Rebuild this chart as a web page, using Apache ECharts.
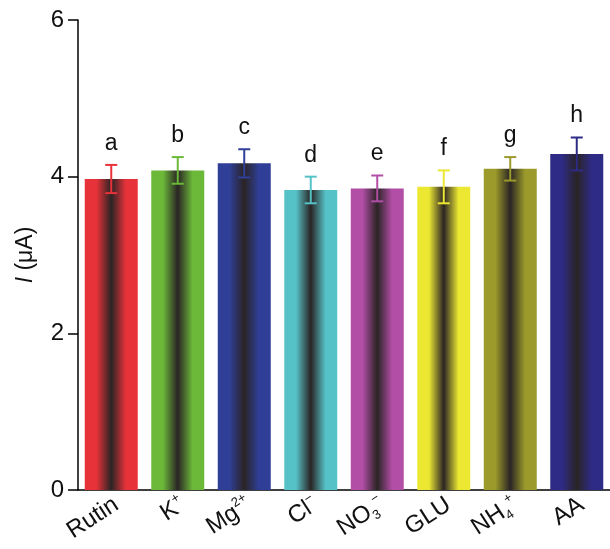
<!DOCTYPE html>
<html><head><meta charset="utf-8">
<script src="https://cdn.jsdelivr.net/npm/echarts@6/dist/echarts.min.js"></script>
<style>html,body{margin:0;padding:0;background:#fff}#c{width:610px;height:549px}</style>
</head><body><div id="c"></div>
<script>
var categories = ['Rutin', 'K+', 'Mg2+', 'Cl-', 'NO3-', 'GLU', 'NH4+', 'AA'];
var categoryLabels = ['Rutin', 'K{sup|+}', 'Mg{sup|2+}', 'Cl{sup|−}', 'NO{sub|3}{sup|−}', 'GLU', 'NH{sub|4}{sup|+}', 'AA'];
var means = [3.97, 4.08, 4.17, 3.83, 3.85, 3.87, 4.10, 4.29];
var errors = [0.18, 0.17, 0.18, 0.17, 0.165, 0.21, 0.15, 0.21];
var letters = ['a', 'b', 'c', 'd', 'e', 'f', 'g', 'h'];
var colors = ['#e8323a', '#6cb93a', '#2f3f98', '#55c2c8', '#b24ea6', '#ece832', '#9b9a2a', '#2e2b86'];
var yTicks = [0, 2, 4, 6];

var chart = echarts.init(document.getElementById('c'));
function grad(c) {
  return new echarts.graphic.LinearGradient(0, 0, 1, 0, [
    {offset: 0, color: c}, {offset: 0.22, color: c},
    {offset: 0.5, color: '#2a2424'},
    {offset: 0.78, color: c}, {offset: 1, color: c}
  ]);
}
var barData = means.map(function (v, i) {
  return {value: v, itemStyle: {color: grad(colors[i])}};
});
var errData = means.map(function (v, i) { return [i, v, errors[i]]; });
var FONT = 'Liberation Sans, Arial, sans-serif';
chart.setOption({
  animation: false,
  grid: {left: 78, right: -3, top: 20, bottom: 59},
  xAxis: {
    type: 'category', data: categories,
    axisLine: {lineStyle: {color: '#000', width: 1.5}},
    axisTick: {alignWithLabel: true, length: 8, lineStyle: {color: '#000', width: 1.5}},
    axisLabel: {
      rotate: 33, margin: 16, color: '#111', fontFamily: FONT, fontSize: 24,
      padding: [0, -6, 0, 0],
      formatter: function (v, i) { return categoryLabels[i]; },
      rich: {
        sup: {fontSize: 13, fontFamily: FONT, color: '#111', verticalAlign: 'top', lineHeight: 28, padding: [0, 0, 14, 0]},
        sub: {fontSize: 13, fontFamily: FONT, color: '#111', verticalAlign: 'bottom', lineHeight: 28, padding: [10, 0, 0, 0]}
      }
    }
  },
  yAxis: {
    type: 'value', min: 0, max: 6, interval: 2,
    name: '{i|I} (μA)', nameLocation: 'middle', nameGap: 41, nameRotate: 90,
    nameTextStyle: {fontSize: 23, fontFamily: FONT, color: '#111',
      rich: {i: {fontStyle: 'italic', fontSize: 23, fontFamily: FONT, color: '#111'}}},
    axisLine: {show: true, lineStyle: {color: '#000', width: 1.5}},
    axisTick: {show: true, length: 10, lineStyle: {color: '#000', width: 1.5}},
    axisLabel: {color: '#111', fontFamily: FONT, fontSize: 24, margin: 14,
      formatter: function (v) { return yTicks.indexOf(v) >= 0 ? String(v) : ''; }},
    splitLine: {show: false}
  },
  series: [{
    type: 'bar', data: barData, barWidth: 53
  }, {
    type: 'custom', data: errData, z: 10,
    renderItem: function (params, api) {
      var i = api.value(0), m = api.value(1), e = api.value(2);
      var top = api.coord([i, m + e]), bot = api.coord([i, m - e]);
      var x = top[0], w = 6;
      var c = colors[params.dataIndex];
      var st = {stroke: c, lineWidth: 2};
      return {type: 'group', children: [
        {type: 'line', shape: {x1: x, y1: top[1], x2: x, y2: bot[1]}, style: st},
        {type: 'line', shape: {x1: x - w, y1: top[1], x2: x + w, y2: top[1]}, style: st},
        {type: 'line', shape: {x1: x - w, y1: bot[1], x2: x + w, y2: bot[1]}, style: st},
        {type: 'text', x: x, y: top[1] - 10, style: {text: letters[params.dataIndex], fill: '#111',
          font: '23px ' + FONT, align: 'center', verticalAlign: 'bottom'}}
      ]};
    }
  }]
});
</script></body></html>
